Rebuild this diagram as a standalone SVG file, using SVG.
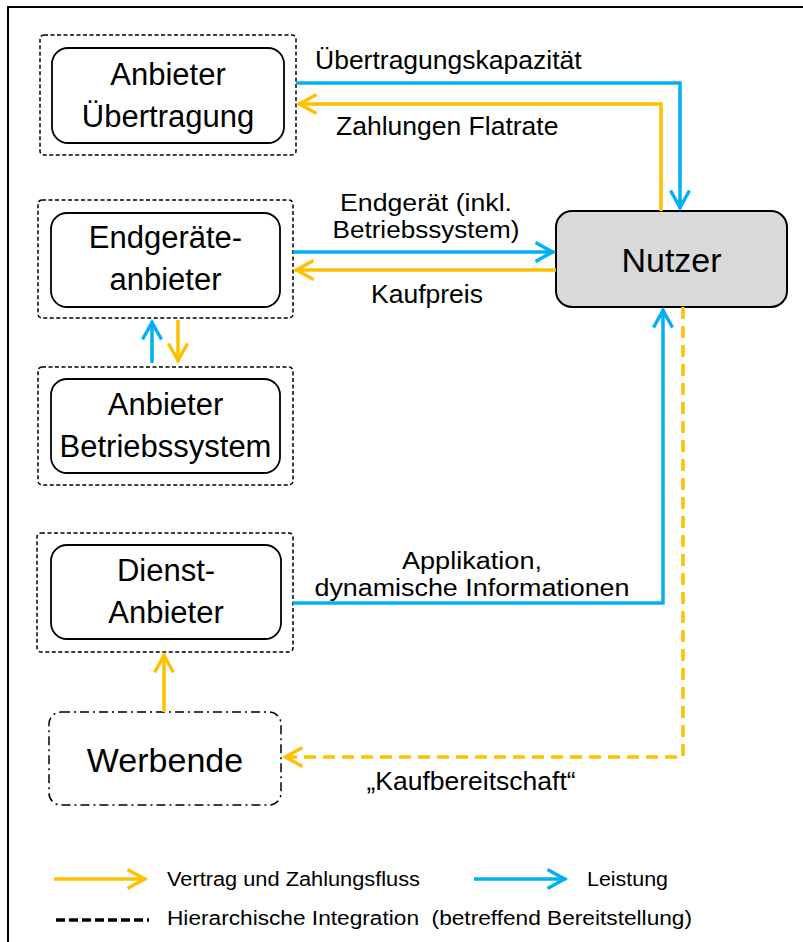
<svg xmlns="http://www.w3.org/2000/svg" width="803" height="942" viewBox="0 0 803 942">
<style>
text{font-family:"Liberation Sans",Arial,sans-serif;fill:#000}
.node{font-size:31px;text-anchor:middle}
.lbl{font-size:26.5px}
.lbl2{font-size:23px;text-anchor:middle}
.mid{text-anchor:middle}
.leg{font-size:20px}
.outer{fill:none;stroke:#000;stroke-width:1.5;stroke-dasharray:4 2.5}
.inner{fill:#fff;stroke:#000;stroke-width:1.8}
.b{fill:none;stroke:#00B0F0;stroke-width:3.5;marker-end:url(#ab)}
.o{fill:none;stroke:#FFC000;stroke-width:3.5;marker-end:url(#ao)}
.od{fill:none;stroke:#FFC000;stroke-width:3.5;stroke-dasharray:12 7;marker-end:url(#ao)}
</style>
<defs>
<marker id="ab" markerUnits="userSpaceOnUse" viewBox="-22 -14 26 28" markerWidth="26" markerHeight="28" refX="1.5" refY="0" orient="auto">
<path d="M-17,-9.5 L0,0 L-17,9.5" fill="none" stroke="#00B0F0" stroke-width="3.5" stroke-linejoin="miter"/>
</marker>
<marker id="ao" markerUnits="userSpaceOnUse" viewBox="-22 -14 26 28" markerWidth="26" markerHeight="28" refX="1.5" refY="0" orient="auto">
<path d="M-17,-9.5 L0,0 L-17,9.5" fill="none" stroke="#FFC000" stroke-width="3.5" stroke-linejoin="miter"/>
</marker>
</defs>
<rect x="0" y="0" width="803" height="942" fill="#fff"/>
<rect x="8" y="7" width="820" height="960" fill="none" stroke="#000" stroke-width="2"/>

<g id="anbieter-uebertragung">
<rect class="outer" x="40" y="35" width="256" height="120" rx="4"/>
<rect class="inner" x="52" y="48" width="232" height="95" rx="16"/>
<text class="node" x="168" y="85">Anbieter</text>
<text class="node" x="168" y="127">Übertragung</text>
</g>

<g id="endgeraeteanbieter">
<rect class="outer" x="38" y="200" width="255" height="118" rx="4"/>
<rect class="inner" x="51" y="213" width="229" height="94" rx="16"/>
<text class="node" x="165.5" y="248">Endgeräte-</text>
<text class="node" x="165.5" y="290">anbieter</text>
</g>

<g id="anbieter-betriebssystem">
<rect class="outer" x="38" y="367" width="255" height="118" rx="4"/>
<rect class="inner" x="51" y="379" width="229" height="94" rx="16"/>
<text class="node" x="165.5" y="415">Anbieter</text>
<text class="node" x="165.5" y="457">Betriebssystem</text>
</g>

<g id="dienst-anbieter">
<rect class="outer" x="37" y="533" width="256" height="119" rx="4"/>
<rect class="inner" x="51" y="545" width="230" height="94" rx="16"/>
<text class="node" x="166" y="581">Dienst-</text>
<text class="node" x="166" y="623">Anbieter</text>
</g>

<g id="werbende">
<rect x="49" y="712" width="232" height="93" rx="12" fill="#fff" stroke="#000" stroke-width="1.5" stroke-dasharray="9 4 2 4"/>
<text x="165" y="772" font-size="34" text-anchor="middle">Werbende</text>
</g>

<g id="nutzer">
<rect x="556" y="211" width="231" height="96" rx="16" fill="#D9D9D9" stroke="#000" stroke-width="2"/>
<text x="671.5" y="272" font-size="34" text-anchor="middle">Nutzer</text>
</g>

<g id="connectors">
<path class="b" d="M296,83 H680 V209"/>
<path class="o" d="M661,211 V104 H298"/>
<path class="b" d="M293,252 H554"/>
<path class="o" d="M556,270 H295"/>
<path class="b" d="M152,363 V321"/>
<path class="o" d="M178,320 V362"/>
<path class="b" d="M293,603 H663 V309"/>
<path class="o" d="M164,712 V654"/>
<path class="od" d="M683,307 V757 H284"/>
</g>

<g id="labels">
<text class="lbl" x="315" y="69">Übertragungskapazität</text>
<text class="lbl" x="336" y="135">Zahlungen Flatrate</text>
<text class="lbl2" x="426" y="211" textLength="172" lengthAdjust="spacingAndGlyphs">Endgerät (inkl.</text>
<text class="lbl2" x="426" y="238" textLength="187" lengthAdjust="spacingAndGlyphs">Betriebssystem)</text>
<text class="lbl mid" x="427" y="303">Kaufpreis</text>
<text class="lbl2" x="472" y="569" textLength="140" lengthAdjust="spacingAndGlyphs">Applikation,</text>
<text class="lbl2" x="472" y="596" textLength="315" lengthAdjust="spacingAndGlyphs">dynamische Informationen</text>
<text class="lbl mid" x="471" y="790">„Kaufbereitschaft“</text>
</g>

<g id="legend">
<line x1="54" y1="879" x2="146" y2="879" stroke="#FFC000" stroke-width="3.5" marker-end="url(#ao)"/>
<text class="leg" x="167" y="886" textLength="253" lengthAdjust="spacingAndGlyphs">Vertrag und Zahlungsfluss</text>
<line x1="474" y1="879" x2="566" y2="879" stroke="#00B0F0" stroke-width="3.5" marker-end="url(#ab)"/>
<text class="leg" x="587" y="886" textLength="81" lengthAdjust="spacingAndGlyphs">Leistung</text>
<line x1="56" y1="920" x2="149" y2="920" stroke="#000" stroke-width="3.5" stroke-dasharray="9 4"/>
<text class="leg" x="167" y="925" textLength="525" lengthAdjust="spacingAndGlyphs" xml:space="preserve">Hierarchische Integration  (betreffend Bereitstellung)</text>
</g>
</svg>
